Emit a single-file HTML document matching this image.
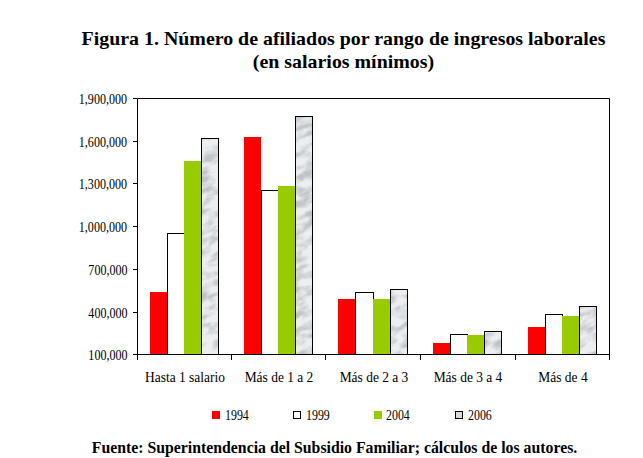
<!DOCTYPE html>
<html><head><meta charset="utf-8"><style>
html,body{margin:0;padding:0;background:#fff;width:643px;height:458px;overflow:hidden;position:relative}
.t{position:absolute;font-family:"Liberation Serif",serif;white-space:nowrap;color:#000}
.title{left:0;width:687px;text-align:center;font-weight:bold;font-size:19px;line-height:23px;transform:scaleX(1.047);transform-origin:343.5px 0}
.yl{position:absolute;right:516px;font-family:"Liberation Serif",serif;font-size:14px;line-height:18px;transform:scaleX(0.86);transform-origin:right center;white-space:nowrap;color:#000}
.xl{position:absolute;top:369px;width:120px;text-align:center;font-family:"Liberation Serif",serif;font-size:14px;line-height:18px;transform:scaleX(0.96);white-space:nowrap;color:#000}
.lg{position:absolute;top:407px;font-family:"Liberation Serif",serif;font-size:14px;line-height:18px;transform:scaleX(0.85);transform-origin:left center;white-space:nowrap;color:#000}
.foot{left:0;width:669px;text-align:center;font-weight:bold;font-size:15.8px;line-height:18px;top:439px}
svg{position:absolute;left:0;top:0}
</style></head><body>
<svg width="643" height="458" viewBox="0 0 643 458">
<defs>
<filter id="mf" x="0" y="0" width="100%" height="100%">
<feTurbulence type="fractalNoise" baseFrequency="0.06 0.13" numOctaves="4" seed="3"/>
<feColorMatrix type="matrix" values="0 0 0 0 0.52  0 0 0 0 0.54  0 0 0 0 0.58  -3.0 0 0 0 1.8"/>
<feGaussianBlur stdDeviation="0.5"/>
</filter>
<pattern id="marble" patternUnits="userSpaceOnUse" width="900" height="900" patternTransform="rotate(-25)">
<rect width="900" height="900" fill="#eceef0"/>
<rect width="900" height="900" filter="url(#mf)"/>
</pattern>
</defs>
<rect x="150" y="292" width="17" height="62" fill="#ff0000"/><rect x="167.5" y="233.5" width="17" height="121" fill="#fff" stroke="#000" stroke-width="1"/><rect x="184" y="161" width="17" height="193" fill="#99cc00"/><rect x="201.5" y="138.5" width="17" height="216" fill="url(#marble)" stroke="#000" stroke-width="1"/><rect x="244" y="137" width="17" height="217" fill="#ff0000"/><rect x="261.5" y="190.5" width="17" height="164" fill="#fff" stroke="#000" stroke-width="1"/><rect x="278" y="186" width="17" height="168" fill="#99cc00"/><rect x="295.5" y="116.5" width="17" height="238" fill="url(#marble)" stroke="#000" stroke-width="1"/><rect x="338" y="299" width="17" height="55" fill="#ff0000"/><rect x="355.5" y="292.5" width="18" height="62" fill="#fff" stroke="#000" stroke-width="1"/><rect x="373" y="299" width="17" height="55" fill="#99cc00"/><rect x="390.5" y="289.5" width="17" height="65" fill="url(#marble)" stroke="#000" stroke-width="1"/><rect x="433" y="343" width="17" height="11" fill="#ff0000"/><rect x="450.5" y="334.5" width="17" height="20" fill="#fff" stroke="#000" stroke-width="1"/><rect x="467" y="335" width="17" height="19" fill="#99cc00"/><rect x="484.5" y="331.5" width="17" height="23" fill="url(#marble)" stroke="#000" stroke-width="1"/><rect x="528" y="327" width="17" height="27" fill="#ff0000"/><rect x="545.5" y="314.5" width="17" height="40" fill="#fff" stroke="#000" stroke-width="1"/><rect x="562" y="316" width="17" height="38" fill="#99cc00"/><rect x="579.5" y="306.5" width="17" height="48" fill="url(#marble)" stroke="#000" stroke-width="1"/>
<path d="M137.5 98.5 H609.5 V354.5 H137.5 Z" fill="none" stroke="#000" stroke-width="1"/><path d="M133 98.5 H137" stroke="#000" stroke-width="1"/><path d="M133 141.5 H137" stroke="#000" stroke-width="1"/><path d="M133 183.5 H137" stroke="#000" stroke-width="1"/><path d="M133 226.5 H137" stroke="#000" stroke-width="1"/><path d="M133 269.5 H137" stroke="#000" stroke-width="1"/><path d="M133 312.5 H137" stroke="#000" stroke-width="1"/><path d="M133 354.5 H137" stroke="#000" stroke-width="1"/><path d="M137.5 354 V360" stroke="#000" stroke-width="1"/><path d="M231.5 354 V360" stroke="#000" stroke-width="1"/><path d="M325.5 354 V360" stroke="#000" stroke-width="1"/><path d="M420.5 354 V360" stroke="#000" stroke-width="1"/><path d="M515.5 354 V360" stroke="#000" stroke-width="1"/><path d="M609.5 354 V360" stroke="#000" stroke-width="1"/>
<rect x="212" y="411" width="8" height="8" fill="#ff0000"/>
<rect x="293.5" y="411.5" width="7" height="7" fill="#fff" stroke="#000"/>
<rect x="374" y="411" width="8" height="8" fill="#99cc00"/>
<rect x="455.5" y="411.5" width="7" height="7" fill="#d8d9dc" stroke="#000"/>
</svg>
<div class="t title" style="top:26.9px">Figura 1. Número de afiliados por rango de ingresos laborales</div>
<div class="t title" style="top:49.9px">(en salarios mínimos)</div>
<div class="yl" style="top:91.3px">1,900,000</div><div class="yl" style="top:134.3px">1,600,000</div><div class="yl" style="top:176.3px">1,300,000</div><div class="yl" style="top:219.3px">1,000,000</div><div class="yl" style="top:262.3px">700,000</div><div class="yl" style="top:305.3px">400,000</div><div class="yl" style="top:347.3px">100,000</div>
<div class="xl" style="left:124.89999999999999px">Hasta 1 salario</div><div class="xl" style="left:219.3px">Más de 1 a 2</div><div class="xl" style="left:313.7px">Más de 2 a 3</div><div class="xl" style="left:408.1px">Más de 3 a 4</div><div class="xl" style="left:502.50000000000006px">Más de 4</div>
<div class="lg" style="left:225px">1994</div>
<div class="lg" style="left:306px">1999</div>
<div class="lg" style="left:386px">2004</div>
<div class="lg" style="left:468px">2006</div>
<div class="t foot">Fuente: Superintendencia del Subsidio Familiar; cálculos de los autores.</div>
</body></html>
